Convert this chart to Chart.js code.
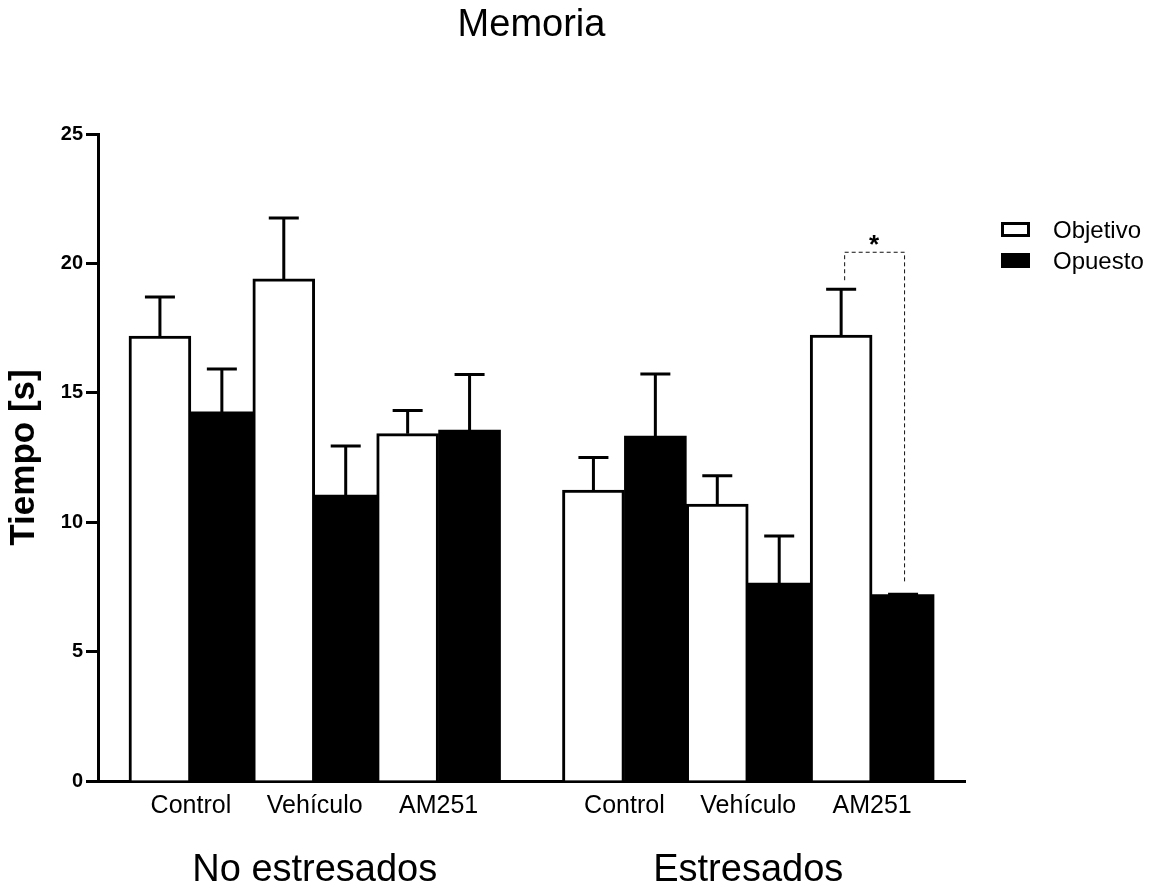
<!DOCTYPE html>
<html>
<head>
<meta charset="utf-8">
<title>Memoria</title>
<script src="https://cdn.jsdelivr.net/npm/chart.js@4.4.1/dist/chart.umd.min.js"></script>
<style>
  html, body { margin: 0; padding: 0; background: #fff; }
  canvas { display: block; }
</style>
</head>
<body>
<canvas id="chart" width="1156" height="888"></canvas>
<script>
// ---- data ----
const chartTitle = 'Memoria';
const yAxisTitle = 'Tiempo [s]';
const groupNames = ['No estresados', 'Estresados'];
const treatments = ['Control', 'Vehículo', 'AM251'];
const seriesNames = ['Objetivo', 'Opuesto'];

// mean time (s) per treatment, No estresados first, then Estresados
const objetivoMean = [17.19, 19.40, 13.42, 11.24, 10.70, 17.23];
const objetivoSem  = [1.51, 2.35, 0.90, 1.26, 1.09, 1.77];
const opuestoMean  = [14.26, 11.05, 13.56, 13.33, 7.65, 7.20];
const opuestoSem   = [1.66, 1.89, 2.15, 2.40, 1.82, 0.02];

const yTicks = [0, 5, 10, 15, 20, 25];

// significance between Objetivo and Opuesto, Estresados / AM251
const significance = { index: 5, label: '*', bracketTop: 20.45, leftFoot: 19.35, rightFoot: 7.65 };

// ---- layout of the category axis (one unit per treatment pair) ----
const groupGap = 0.5;
const edgePad = 0.25;
const xPositions = [];
const tickLabels = [];
const groupCenters = [];
groupNames.forEach((g, gi) => {
  const start = edgePad + gi * (treatments.length + groupGap);
  treatments.forEach((t, ti) => {
    xPositions.push(start + ti + 0.5);
    tickLabels.push(t);
  });
  groupCenters.push(start + treatments.length / 2);
});
const xMax = xPositions[xPositions.length - 1] + 0.5 + edgePad;

const FONT = "'Liberation Sans', Arial, Helvetica, sans-serif";
Chart.defaults.font.family = FONT;
Chart.defaults.color = '#000';

// upward SEM whiskers
const errorBars = {
  id: 'errorBars',
  afterDatasetsDraw(chart) {
    const { ctx } = chart;
    const y = chart.scales.y;
    ctx.save();
    ctx.strokeStyle = '#000';
    ctx.lineWidth = 3;
    chart.data.datasets.forEach((ds, di) => {
      const meta = chart.getDatasetMeta(di);
      meta.data.forEach((bar, i) => {
        const top = y.getPixelForValue(ds.data[i].y + ds.sem[i]);
        ctx.beginPath();
        ctx.moveTo(bar.x, bar.y);
        ctx.lineTo(bar.x, top);
        ctx.moveTo(bar.x - 15, top);
        ctx.lineTo(bar.x + 15, top);
        ctx.stroke();
      });
    });
    ctx.restore();
  }
};

// dashed bracket with the significance mark
const sigBracket = {
  id: 'sigBracket',
  afterDatasetsDraw(chart) {
    const { ctx } = chart;
    const y = chart.scales.y;
    const a = chart.getDatasetMeta(0).data[significance.index];
    const b = chart.getDatasetMeta(1).data[significance.index];
    const lx = a.x + 3, rx = b.x + 1;
    const topY = y.getPixelForValue(significance.bracketTop);
    ctx.save();
    ctx.strokeStyle = '#111';
    ctx.lineWidth = 1;
    ctx.setLineDash([4, 3]);
    ctx.beginPath();
    ctx.moveTo(lx + 0.5, y.getPixelForValue(significance.leftFoot));
    ctx.lineTo(lx + 0.5, topY + 0.5);
    ctx.lineTo(rx + 0.5, topY + 0.5);
    ctx.lineTo(rx + 0.5, y.getPixelForValue(significance.rightFoot));
    ctx.stroke();
    ctx.setLineDash([]);
    ctx.fillStyle = '#000';
    ctx.font = 'bold 26px ' + FONT;
    ctx.textAlign = 'center';
    ctx.textBaseline = 'alphabetic';
    ctx.fillText(significance.label, (lx + rx) / 2, topY + 1);
    ctx.restore();
  }
};

// group names under the treatment labels, plus the legend on the right
const annotations = {
  id: 'annotations',
  afterDraw(chart) {
    const { ctx, chartArea } = chart;
    const x = chart.scales.x;
    ctx.save();
    ctx.fillStyle = '#000';
    ctx.font = '38px ' + FONT;
    ctx.textAlign = 'center';
    ctx.textBaseline = 'alphabetic';
    groupNames.forEach((g, i) => {
      ctx.fillText(g, x.getPixelForValue(groupCenters[i]), chartArea.bottom + 100);
    });

    const bx = chartArea.right + 36;
    let by = chartArea.top + 88;
    chart.data.datasets.forEach((ds) => {
      ctx.fillStyle = ds.backgroundColor;
      ctx.fillRect(bx, by, 29, 15);
      if (ds.borderWidth) {
        ctx.strokeStyle = ds.borderColor;
        ctx.lineWidth = ds.borderWidth;
        ctx.strokeRect(bx + 1.5, by + 1.5, 26, 12);
      }
      ctx.fillStyle = '#000';
      ctx.font = '24px ' + FONT;
      ctx.textAlign = 'left';
      ctx.textBaseline = 'middle';
      ctx.fillText(ds.label, bx + 52, by + 9);
      by += 31;
    });
    ctx.restore();
  }
};

new Chart(document.getElementById('chart'), {
  type: 'bar',
  data: {
    datasets: [
      {
        label: seriesNames[0],
        data: xPositions.map((x, i) => ({ x, y: objetivoMean[i] })),
        sem: objetivoSem,
        backgroundColor: '#ffffff',
        borderColor: '#000000',
        borderWidth: 3,
        borderSkipped: 'start',
        barPercentage: 1,
        categoryPercentage: 1
      },
      {
        label: seriesNames[1],
        data: xPositions.map((x, i) => ({ x, y: opuestoMean[i] })),
        sem: opuestoSem,
        backgroundColor: '#000000',
        borderWidth: 0,
        barPercentage: 1,
        categoryPercentage: 1
      }
    ]
  },
  options: {
    responsive: false,
    devicePixelRatio: 1,
    animation: false,
    layout: { padding: { left: 0, right: 191, top: 0, bottom: 0 } },
    plugins: {
      legend: { display: false },
      tooltip: { enabled: false },
      title: {
        display: true,
        text: chartTitle,
        fullSize: false,
        color: '#000',
        font: { size: 38, weight: 'normal' },
        padding: { top: 3, bottom: 85.4 }
      }
    },
    scales: {
      x: {
        type: 'linear',
        min: 0,
        max: xMax,
        offset: false,
        z: 1,
        afterBuildTicks(scale) { scale.ticks = xPositions.map(v => ({ value: v })); },
        afterFit(scale) { scale.height = 107; },
        grid: { display: false, drawTicks: false },
        border: { display: true, color: '#000', width: 3 },
        ticks: {
          autoSkip: false,
          maxRotation: 0,
          padding: 10,
          color: '#000',
          font: { size: 25 },
          callback: (v, i) => tickLabels[i]
        }
      },
      y: {
        min: yTicks[0],
        max: yTicks[yTicks.length - 1],
        z: 1,
        afterBuildTicks(scale) { scale.ticks = yTicks.map(v => ({ value: v })); },
        afterFit(scale) { scale.width = 98; },
        grid: {
          drawOnChartArea: false,
          drawTicks: true,
          tickLength: 12,
          tickWidth: 3,
          tickColor: '#000',
          color: '#000'
        },
        border: { display: true, color: '#000', width: 3 },
        ticks: {
          padding: 3,
          color: '#000',
          font: { size: 20, weight: 'bold' }
        },
        title: {
          display: true,
          text: yAxisTitle,
          color: '#000',
          font: { size: 35, weight: 'bold' },
          padding: { top: 3, bottom: 0 }
        }
      }
    }
  },
  plugins: [errorBars, sigBracket, annotations]
});
</script>
</body>
</html>
